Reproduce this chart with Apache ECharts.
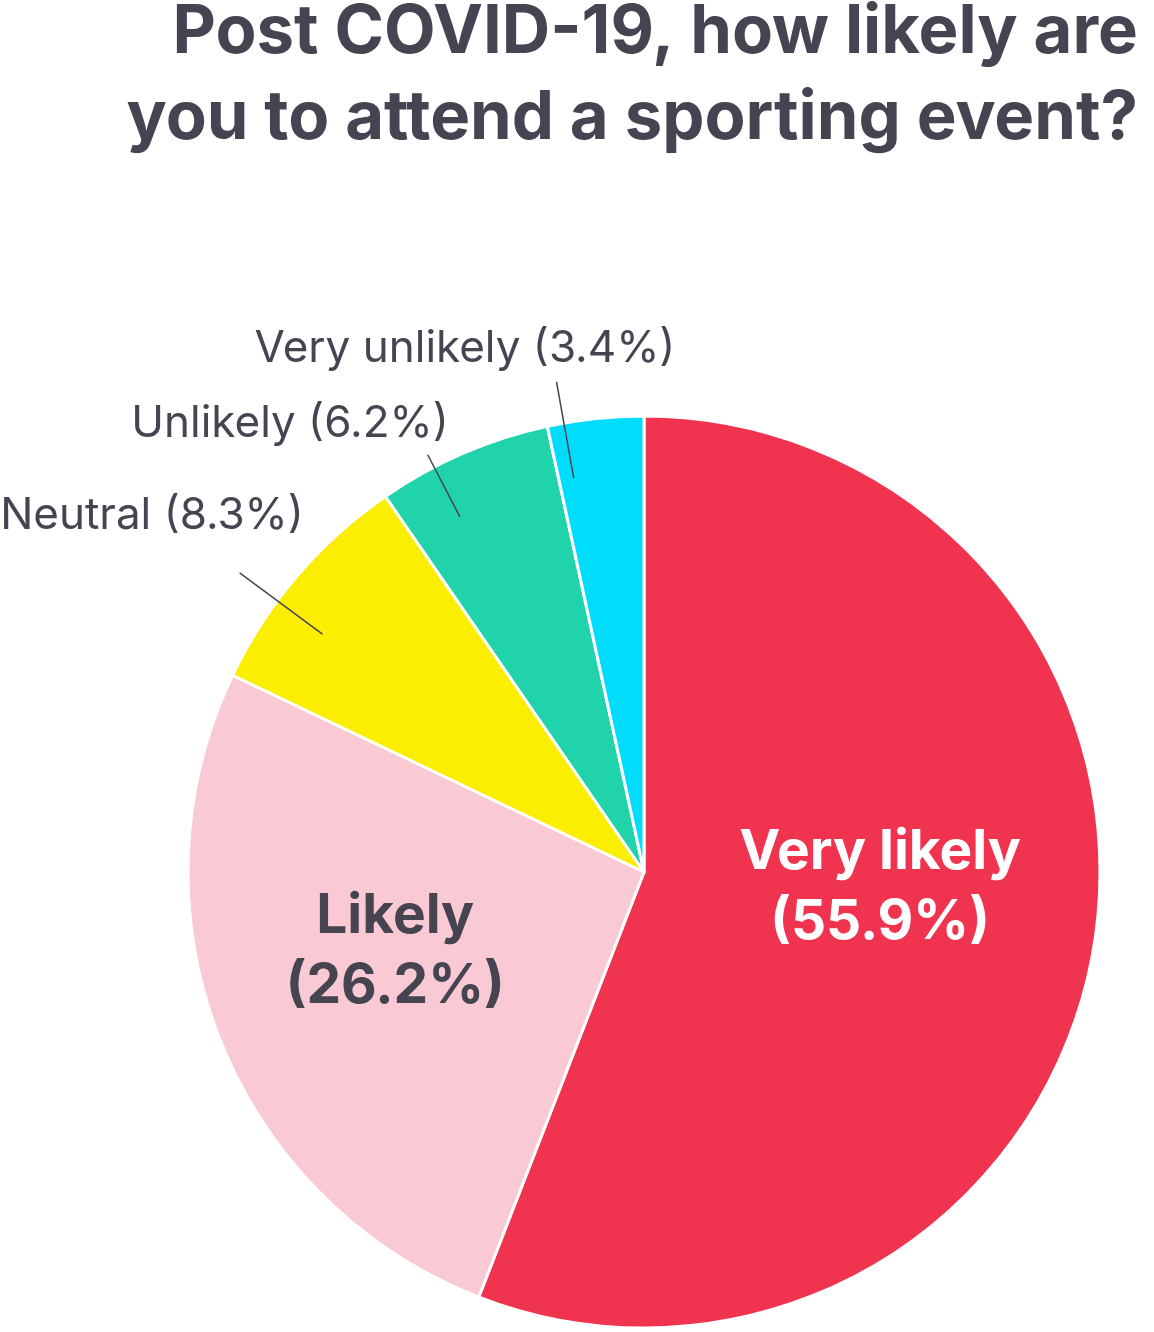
<!DOCTYPE html>
<html>
<head>
<meta charset="utf-8">
<script src="https://cdn.jsdelivr.net/npm/echarts@6/dist/echarts.min.js"></script>
<style>
html,body{margin:0;padding:0;background:#fff;}
#chart{width:1154px;height:1332px;}
</style>
</head>
<body>
<div id="chart"></div>
<script>
var titleText = 'Post COVID-19, how likely are\nyou to attend a sporting event?';
var categories = ['Very likely', 'Likely', 'Neutral', 'Unlikely', 'Very unlikely'];
var values = [55.9, 26.2, 8.3, 6.2, 3.4];
var colors = ['#F0344F', '#F9CAD3', '#FCEE00', '#20D3AB', '#00DDFB'];

var DARK = '#474452';
var FONT = 'Inter';

var chart = echarts.init(document.getElementById('chart'), null, {renderer: 'canvas'});

// label placement (styling only)
var labelPos = {
  0: {dx: 9, dy: -27},
  1: {dx: -34, dy: -6},
  2: {x: 152, y: 516},
  3: {x: 290, y: 424},
  4: {x: 465, y: 349}
};
var lineLen = [0, 0, 103, 70, 98];

var mainData = categories.map(function (c, i) {
  var big = i < 2;
  return {
    name: c,
    value: values[i],
    itemStyle: {color: colors[i]},
    label: big ? {
      position: 'inside',
      color: i === 0 ? '#ffffff' : DARK,
      fontFamily: FONT,
      fontWeight: 'bold',
      fontSize: 55,
      lineHeight: 70
    } : {
      position: 'outside',
      color: DARK,
      fontFamily: FONT,
      fontWeight: 'normal',
      fontSize: 44
    },
    labelLine: {show: false}
  };
});

var lineData = categories.map(function (c, i) {
  var small = i >= 2;
  return {
    name: c,
    value: values[i],
    label: {show: small},
    labelLine: {show: small, length: lineLen[i], length2: 0}
  };
});

chart.setOption({
  backgroundColor: '#ffffff',
  animation: false,
  graphic: [{
    type: 'text',
    right: 16,
    top: -10,
    style: {
      text: titleText,
      textAlign: 'right',
      fontFamily: FONT,
      fontWeight: 'bold',
      fontSize: 67,
      lineHeight: 86,
      fill: DARK
    }
  }],
  series: [
    {
      type: 'pie',
      z: 2,
      center: [644, 872],
      radius: [0, 456],
      startAngle: 90,
      clockwise: true,
      avoidLabelOverlap: false,
      silent: true,
      itemStyle: {borderColor: '#ffffff', borderWidth: 3},
      label: {
        show: true,
        formatter: function (p) {
          return p.dataIndex < 2 ? p.name + '\n(' + p.value.toFixed(1) + '%)' : p.name + ' (' + p.value.toFixed(1) + '%)';
        }
      },
      labelLayout: function (p) {
        var o = labelPos[p.dataIndex];
        if (o.x != null) {
          return {x: o.x, y: o.y, align: 'center', verticalAlign: 'middle'};
        }
        return {dx: o.dx, dy: o.dy};
      },
      data: mainData
    },
    {
      type: 'pie',
      z: 6,
      center: [644, 872],
      radius: [0, 400],
      startAngle: 94,
      clockwise: true,
      avoidLabelOverlap: false,
      silent: true,
      itemStyle: {color: 'rgba(0,0,0,0)', borderWidth: 0},
      label: {
        position: 'outside',
        formatter: ' ',
        fontSize: 1,
        color: 'rgba(0,0,0,0)'
      },
      labelLine: {
        lineStyle: {color: DARK, width: 1.5}
      },
      data: lineData
    }
  ]
});
</script>
</body>
</html>
